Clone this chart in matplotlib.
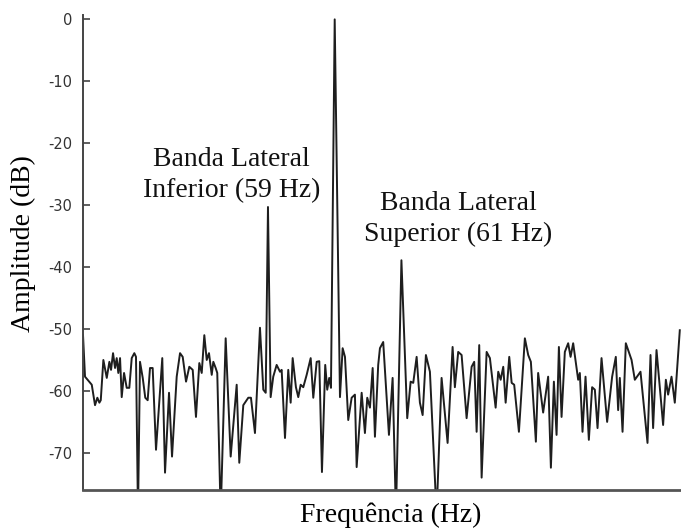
import matplotlib
matplotlib.use("Agg")
import matplotlib.pyplot as plt

# ── Spectrum (Hz, dB) ─────────────────────────────────────────────────────────
freq_hz = [
    56.228, 56.258, 56.359, 56.408, 56.443, 56.473, 56.494, 56.533, 56.584, 56.623,
    56.648, 56.678, 56.708, 56.733, 56.757, 56.783, 56.808, 56.843, 56.883, 56.922,
    56.958, 56.997, 57.022, 57.052, 57.082, 57.123, 57.161, 57.197, 57.232, 57.272,
    57.322, 57.416, 57.457, 57.517, 57.562, 57.632, 57.682, 57.722, 57.772, 57.821,
    57.872, 57.921, 57.971, 58.007, 58.046, 58.082, 58.116, 58.157, 58.181, 58.216,
    58.240, 58.291, 58.366, 58.441, 58.531, 58.570, 58.630, 58.705, 58.745, 58.805,
    58.880, 58.930, 58.966, 59.000, 59.040, 59.079, 59.130, 59.180, 59.205, 59.255,
    59.304, 59.340, 59.370, 59.419, 59.454, 59.490, 59.529, 59.580, 59.640, 59.679,
    59.730, 59.769, 59.809, 59.858, 59.888, 59.918, 59.944, 60.000, 60.079, 60.119,
    60.154, 60.203, 60.254, 60.303, 60.329, 60.404, 60.453, 60.488, 60.528, 60.569,
    60.603, 60.652, 60.678, 60.727, 60.813, 60.868, 60.918, 61.000, 61.087, 61.138,
    61.177, 61.228, 61.277, 61.318, 61.367, 61.427, 61.527, 61.602, 61.692, 61.767,
    61.801, 61.851, 61.902, 61.977, 62.052, 62.091, 62.127, 62.166, 62.202, 62.277,
    62.326, 62.412, 62.451, 62.487, 62.526, 62.562, 62.616, 62.652, 62.690, 62.761,
    62.850, 62.900, 62.940, 63.015, 63.049, 63.124, 63.199, 63.240, 63.285, 63.325,
    63.360, 63.400, 63.449, 63.499, 63.535, 63.574, 63.649, 63.674, 63.714, 63.759,
    63.809, 63.858, 63.899, 63.939, 63.999, 64.083, 64.158, 64.213, 64.248, 64.273,
    64.314, 64.363, 64.449, 64.498, 64.583, 64.688, 64.733, 64.772, 64.823, 64.922,
    64.963, 64.997, 65.048, 65.097, 65.172,
]
amp_db = [
    -51.0, -57.7, -59.0, -62.3, -61.1, -61.9, -61.5, -55.0, -57.9, -55.3,
    -56.6, -53.9, -56.3, -54.7, -57.1, -54.7, -61.0, -57.1, -59.5, -59.5,
    -54.7, -53.9, -54.5, -80.0, -55.3, -57.9, -61.1, -61.5, -56.3, -56.3,
    -69.5, -54.7, -73.2, -60.3, -70.6, -57.7, -53.9, -54.5, -58.5, -56.1,
    -56.6, -64.2, -55.5, -57.1, -51.0, -55.0, -53.9, -57.4, -55.3, -56.3,
    -57.1, -80.0, -51.5, -70.6, -59.0, -71.6, -62.3, -61.1, -61.1, -66.8,
    -49.8, -59.8, -60.3, -30.3, -61.0, -57.7, -55.8, -56.9, -56.6, -67.6,
    -56.6, -61.9, -54.7, -59.4, -61.0, -59.0, -59.4, -57.4, -54.7, -61.1,
    -55.3, -55.2, -73.1, -55.8, -59.8, -57.9, -59.5, 0.0, -61.0, -53.1,
    -54.5, -64.7, -61.1, -60.6, -72.3, -60.3, -66.8, -61.1, -62.7, -56.3,
    -67.4, -55.8, -53.1, -52.1, -67.1, -57.9, -80.0, -38.9, -64.4, -58.5,
    -58.7, -54.5, -61.9, -63.9, -54.2, -56.9, -80.0, -57.9, -68.4, -52.9,
    -59.4, -53.7, -54.2, -64.4, -56.1, -55.3, -66.6, -52.6, -74.0, -53.7,
    -54.7, -62.7, -56.9, -58.2, -56.1, -61.9, -54.5, -58.7, -59.0, -66.6,
    -51.5, -54.2, -55.3, -68.2, -57.1, -63.5, -57.7, -72.4, -58.5, -67.1,
    -52.9, -64.2, -53.7, -52.3, -54.5, -52.3, -58.2, -57.1, -66.6, -57.7,
    -67.9, -59.4, -59.8, -66.0, -54.7, -65.0, -57.7, -54.5, -63.1, -57.9,
    -66.6, -52.3, -55.0, -58.2, -56.9, -68.4, -54.2, -66.0, -53.4, -65.5,
    -58.2, -60.6, -57.7, -61.9, -50.2,
]

y_ticks = [0, -10, -20, -30, -40, -50, -60, -70]

labels = {
    "lower": ("Banda Lateral\nInferior (59 Hz)", 58.45, -25.1),
    "upper": ("Banda Lateral\nSuperior (61 Hz)", 61.85, -32.3),
}

SERIF = ["Liberation Serif", "DejaVu Serif"]
SANS = ["DejaVu Sans"]

fig = plt.figure(figsize=(6.81, 5.31), dpi=100)
ax = fig.add_axes([0.1219, 0.0772, 0.8781, 0.8945])

ax.plot(freq_hz, amp_db, color="#1e1e1e", lw=1.4)

ax.set_xlim(56.228, 65.19)
ax.set_ylim(-76, 0.7)
ax.set_xticks([])
ax.set_yticks(y_ticks)
ax.set_yticklabels([str(v) for v in y_ticks], family=SANS, fontsize=10.5, color="#333333")
ax.tick_params(axis="y", direction="in", length=5, width=1.2, color="#444444", pad=8)

for side in ("top", "right"):
    ax.spines[side].set_visible(False)
ax.spines["left"].set_color("#444444")
ax.spines["left"].set_linewidth(1.4)
ax.spines["bottom"].set_color("#555555")
ax.spines["bottom"].set_linewidth(2.0)

ax.set_ylabel("Amplitude (dB)", family=SERIF, fontsize=20)
ax.set_xlabel("Frequência (Hz)", family=SERIF, fontsize=20)
ax.yaxis.set_label_coords(-0.079, 0.518)
ax.xaxis.set_label_coords(0.515, -0.026)

for text, fx, fy in labels.values():
    ax.text(fx, fy, text, family=SERIF, fontsize=20, ha="center", va="center",
            linespacing=1.3, color="#111111")

fig.savefig("out.png", dpi=100)
